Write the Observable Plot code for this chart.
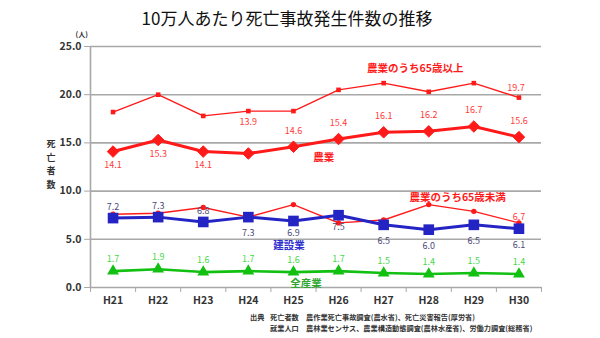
<!DOCTYPE html>
<html><head><meta charset="utf-8">
<script src="https://cdn.jsdelivr.net/npm/d3@7"></script>
<script src="https://cdn.jsdelivr.net/npm/@observablehq/plot@0.6"></script>
<style>
body{margin:0;background:#fff;font-family:"Noto Sans CJK JP","Noto Sans",sans-serif}
#wrap{position:relative;width:600px;height:338px;overflow:hidden}
#title{position:absolute;left:0;width:574px;top:5px;text-align:center;font-size:17px;color:#111;white-space:nowrap}
.foot{position:absolute;font-size:7.2px;font-weight:bold;color:#333;white-space:nowrap}
#wrap svg{position:absolute;left:0;top:0}
</style></head>
<body><div id="wrap"><div id="title">10万人あたり死亡事故発生件数の推移</div></div>
<script>
const years = ["H21","H22","H23","H24","H25","H26","H27","H28","H29","H30"];
const seriesNames = ["農業のうち65歳以上","農業","農業のうち65歳未満","建設業","全産業"];
const agri65over = [18.2,20.0,17.8,18.3,18.3,20.5,21.2,20.3,21.2,19.7];
const agri = [14.1,15.3,14.1,13.9,14.6,15.4,16.1,16.2,16.7,15.6];
const agri65under = [7.6,7.7,8.3,7.3,8.6,6.7,7.0,8.6,7.9,6.7];
const construction = [7.2,7.3,6.8,7.3,6.9,7.5,6.5,6.0,6.5,6.1];
const allIndustry = [1.7,1.9,1.6,1.7,1.6,1.7,1.5,1.4,1.5,1.4];
const yTicks = [0,5,10,15,20,25];
const yLabel = "死亡者数";
const yUnit = "(人)";
const source1 = ["出典","死亡者数","農作業死亡事故調査(農水省)、死亡災害報告(厚労省)"];
const source2 = ["","就業人口","農林業センサス、農業構造動態調査(農林水産省)、労働力調査(総務省)"];

const rows = arr => arr.map((v,i)=>({i, v, label: v.toFixed(1)}));
const s65o = rows(agri65over), sAg = rows(agri), s65u = rows(agri65under), sCo = rows(construction), sAll = rows(allIndustry);
const idx = years.map((_,i)=>i);
const bounds = d3.range(years.length+1).map(i=>i-0.5);

const RED = "#ff1a1a", BLUE = "#2424c4", GREEN = "#12c012";
const grid = "#a8a8a8";

const notes = [
  {x:6.7, y:22.7, t:seriesNames[0], c:RED},
  {x:4.67, y:13.5, t:seriesNames[1], c:RED},
  {x:7.64, y:9.3, t:seriesNames[2], c:RED},
  {x:3.9, y:4.3, t:seriesNames[3], c:"#2f2fd0"},
  {x:4.28, y:0.4, t:seriesNames[4], c:"#2fa62f"}
];

const chart = Plot.plot({
  width: 600, height: 338,
  marginLeft: 90, marginRight: 59, marginTop: 46, marginBottom: 51,
  style: {fontFamily: '"Noto Sans CJK JP", sans-serif', background: "transparent"},
  x: {type: "linear", domain: [-0.5, years.length-0.5], axis: null},
  y: {domain: [0, 25], axis: null},
  marks: [
    Plot.ruleY(yTicks, {stroke: grid, strokeWidth: 1.6}),
    Plot.ruleX([-0.5], {y1: 0, y2: 25, stroke: grid, strokeWidth: 1.6}),
    Plot.axisY({ticks: yTicks, tickFormat: d3.format(".1f"), tickSize: 6, tickPadding: 3, stroke: grid, fill: "#333", fontSize: 10.5, fontWeight: "bold"}),
    Plot.axisX({ticks: bounds, tickFormat: () => "", tickSize: 5, stroke: grid}),
    Plot.axisX({ticks: idx, tickFormat: i => years[i], tickSize: 0, tickPadding: 9, fill: "#333", fontSize: 10.5, fontWeight: "bold"}),
    Plot.text([yLabel.split("").join("\n")], {frameAnchor: "left", dx: -44, dy: -4, lineHeight: 1.55, fontSize: 9, fontWeight: "bold", fill: "#333"}),
    Plot.text([yUnit], {frameAnchor: "top-left", dx: -15, dy: -14, fontSize: 7, fontWeight: "bold", fill: "#333"}),

    Plot.line(s65o, {x: "i", y: "v", stroke: RED, strokeWidth: 1.4}),
    Plot.dot(s65o, {x: "i", y: "v", symbol: "square", r: 2.6, fill: RED}),
    Plot.line(s65u, {x: "i", y: "v", stroke: RED, strokeWidth: 1.4}),
    Plot.dot(s65u, {x: "i", y: "v", symbol: "circle", r: 2.7, fill: RED}),
    Plot.line(sAll, {x: "i", y: "v", stroke: GREEN, strokeWidth: 2.6}),
    Plot.dot(sAll, {x: "i", y: "v", symbol: "triangle", r: 4.4, fill: GREEN}),
    Plot.line(sCo, {x: "i", y: "v", stroke: BLUE, strokeWidth: 3}),
    Plot.dot(sCo, {x: "i", y: "v", symbol: "square", r: 6, fill: BLUE}),
    Plot.line(sAg, {x: "i", y: "v", stroke: RED, strokeWidth: 3}),
    Plot.dot(sAg, {x: "i", y: "v", symbol: "diamond2", r: 5.2, fill: RED, stroke: RED, strokeWidth: 1}),

    Plot.text(sAg.filter(d=>d.i<3), {x:"i", y:"v", text:"label", dy: 14, fontSize: 9, fill: "#ff3a3a"}),
    Plot.text(sAg.filter(d=>d.i===3), {x:"i", y:"v", text:"label", dy: -31, fontSize: 9, fill: "#ff3a3a"}),
    Plot.text(sAg.filter(d=>d.i>3), {x:"i", y:"v", text:"label", dy: -16, fontSize: 9, fill: "#ff3a3a"}),
    Plot.text(s65o.filter(d=>d.i===9), {x:"i", y:"v", text:"label", dy: -9, dx: -3, fontSize: 9, fill: "#ff3a3a"}),
    Plot.text(s65u.filter(d=>d.i===9), {x:"i", y:"v", text:"label", dy: -6, fontSize: 9, fill: "#ff3a3a"}),
    Plot.text(sCo.filter(d=>d.i<3), {x:"i", y:"v", text:"label", dy: -11, fontSize: 9, fill: "#4a4a78"}),
    Plot.text(sCo.filter(d=>d.i===4 || d.i===5), {x:"i", y:"v", text:"label", dy: 12, fontSize: 9, fill: "#4a4a78"}),
    Plot.text(sCo.filter(d=>d.i===3 || d.i>5), {x:"i", y:"v", text:"label", dy: 16, fontSize: 9, fill: "#4a4a78"}),
    Plot.text(sAll, {x:"i", y:"v", text:"label", dy: -12, fontSize: 9, fill: "#48d848"}),

    Plot.text(notes, {x:"x", y:"y", text:"t", fill:"c", fontSize: 10.5, fontWeight: "bold"})
  ]
});
const wrap = document.getElementById("wrap");
wrap.insertBefore(chart, wrap.firstChild);

function footLine(parts, top){
  const lefts = [250, 270, 306];
  parts.forEach((p,k)=>{
    if(!p) return;
    const d = document.createElement("div");
    d.className = "foot"; d.textContent = p;
    d.style.left = lefts[k]+"px"; d.style.top = top+"px";
    wrap.appendChild(d);
  });
}
footLine(source1, 312);
footLine(source2, 323);
</script>
</body></html>
